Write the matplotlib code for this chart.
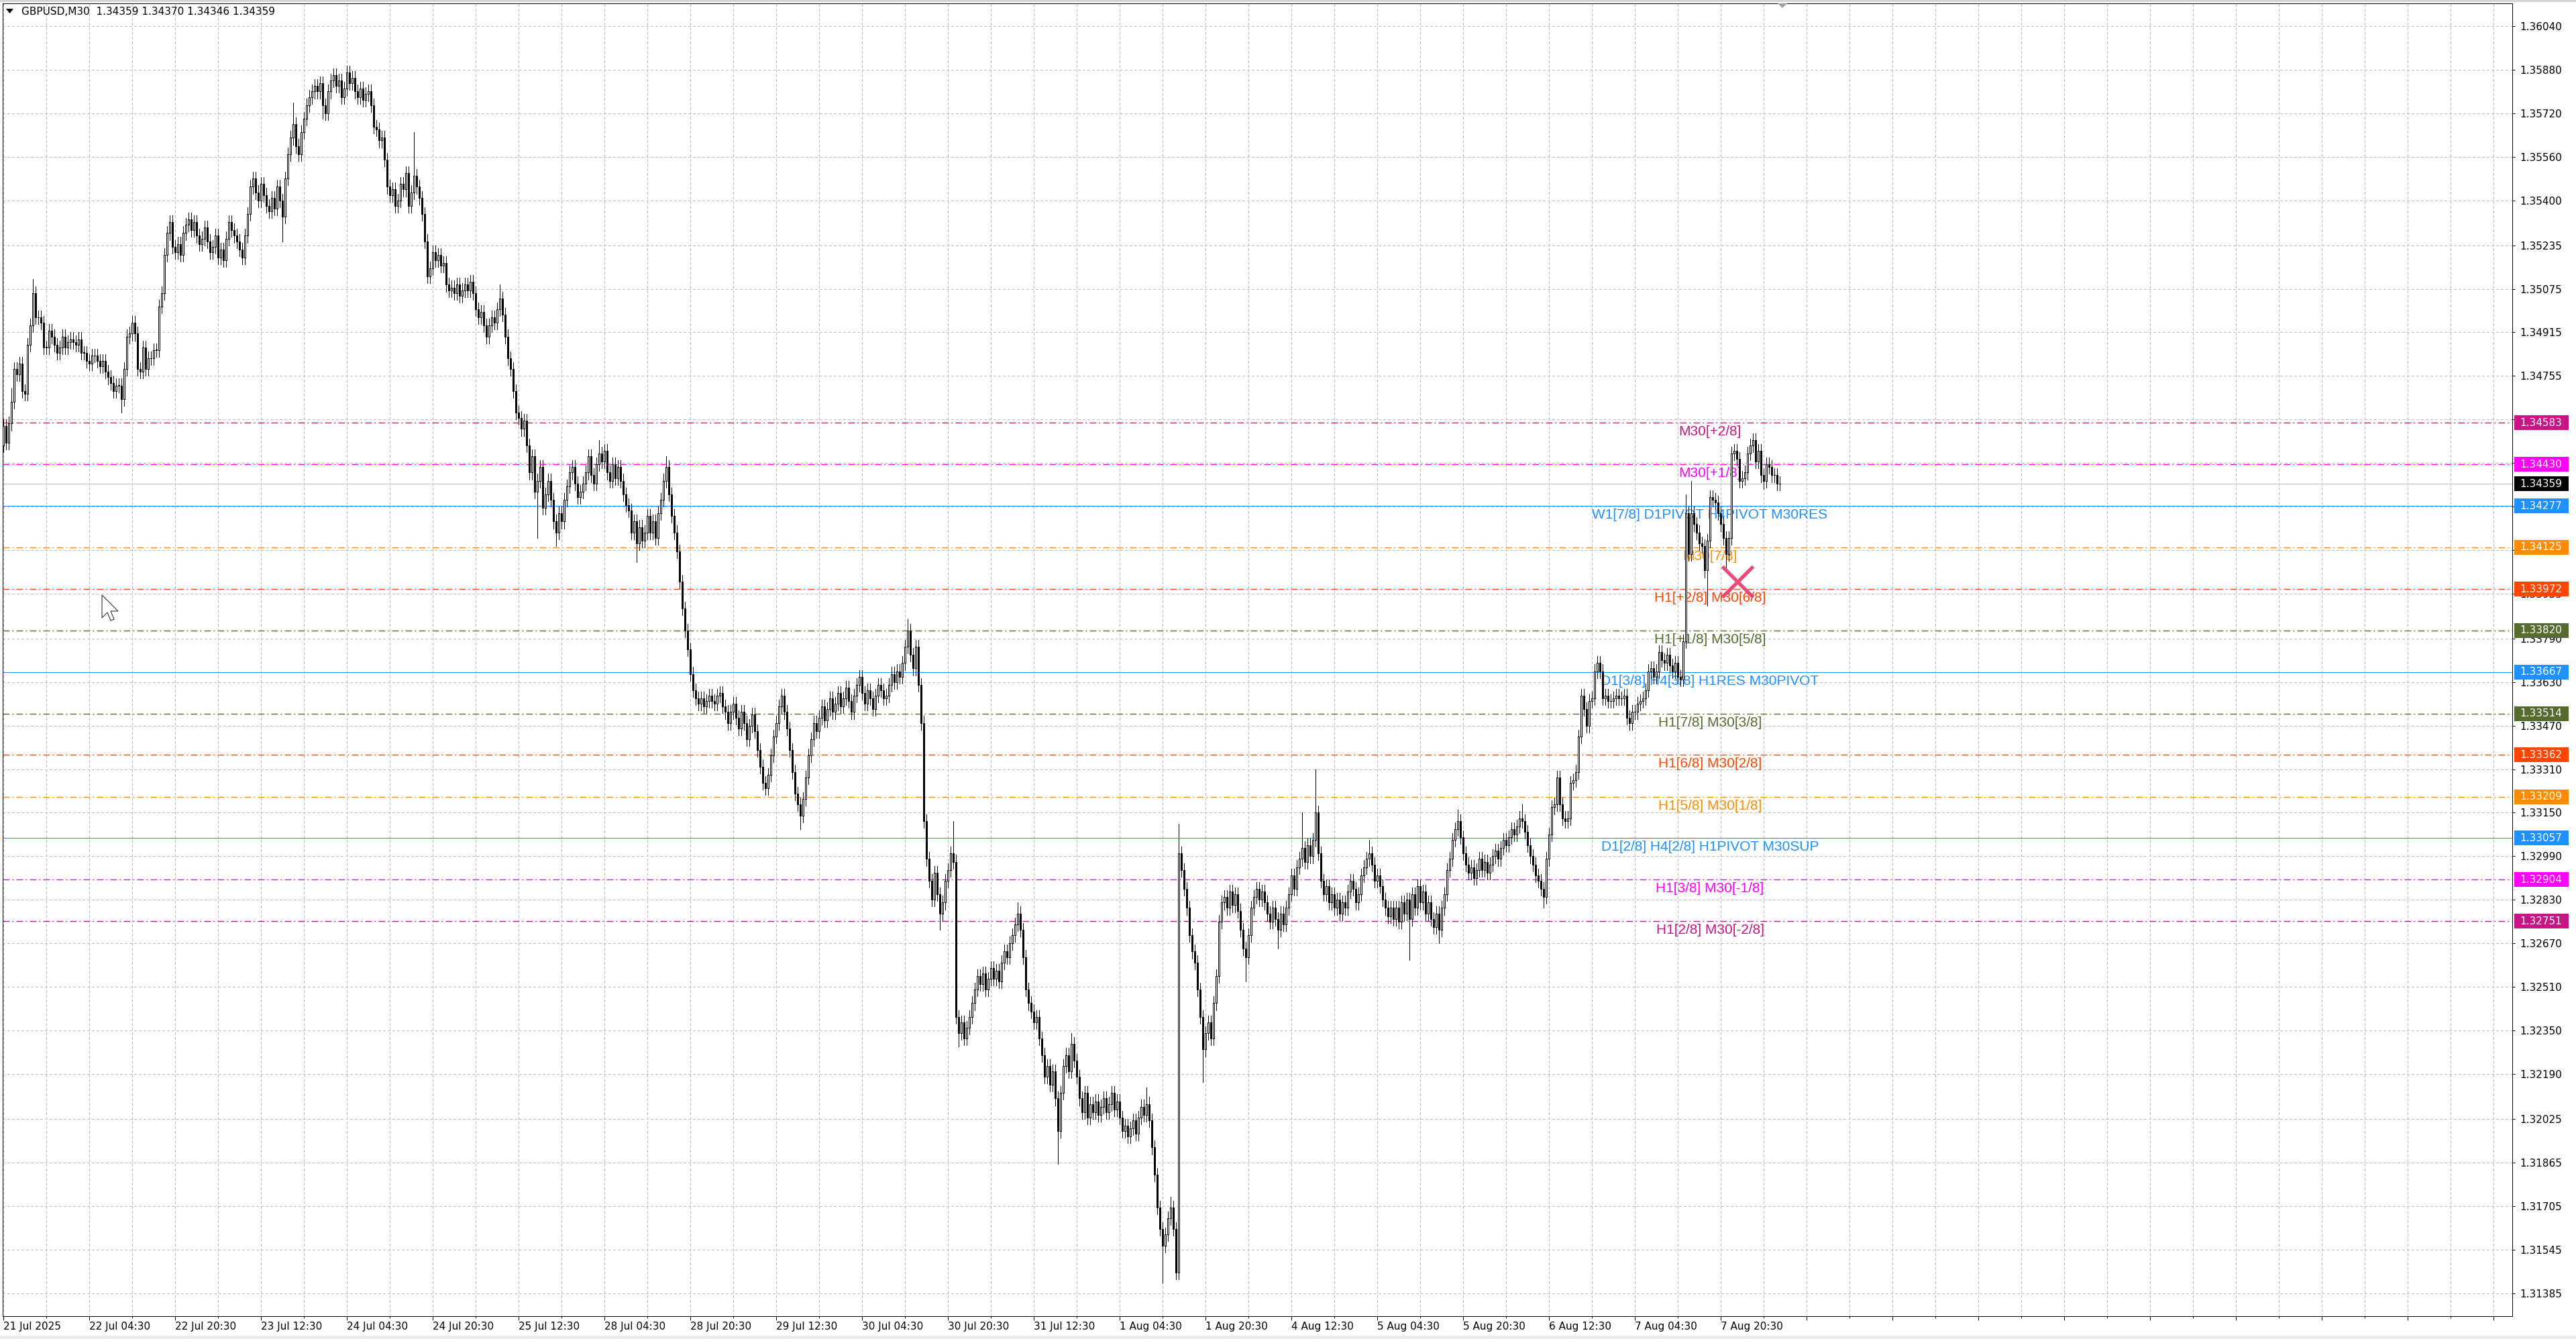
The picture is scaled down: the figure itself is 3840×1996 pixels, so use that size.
import matplotlib
matplotlib.use("Agg")
import matplotlib.pyplot as plt
from matplotlib.patches import Rectangle, Polygon
from matplotlib.transforms import blended_transform_factory, IdentityTransform
import numpy as np

plt.rcParams['font.family'] = ['DejaVu Sans']

# GBPUSD M30 closes, one per bar, 21 Jul 12:30 -> 8 Aug 07:30
closes = [
    1.3457, 1.3451, 1.3458, 1.3466, 1.3478, 1.3476, 1.3480, 1.3470, 1.3469, 1.3487,
    1.3494, 1.3506, 1.3497, 1.3497, 1.3495, 1.3486, 1.3486, 1.3492, 1.3490, 1.3487,
    1.3484, 1.3486, 1.3490, 1.3486, 1.3488, 1.3489, 1.3488, 1.3487, 1.3489, 1.3484,
    1.3484, 1.3481, 1.3480, 1.3483, 1.3483, 1.3481, 1.3479, 1.3481, 1.3477, 1.3475,
    1.3473, 1.3470, 1.3472, 1.3472, 1.3467, 1.3478, 1.3490, 1.3491, 1.3495, 1.3491,
    1.3478, 1.3477, 1.3486, 1.3478, 1.3482, 1.3482, 1.3485, 1.3485, 1.3501, 1.3506,
    1.3520, 1.3528, 1.3532, 1.3523, 1.3521, 1.3524, 1.3520, 1.3528, 1.3531, 1.3533,
    1.3529, 1.3532, 1.3527, 1.3524, 1.3526, 1.3530, 1.3525, 1.3521, 1.3523, 1.3527,
    1.3519, 1.3522, 1.3518, 1.3526, 1.3532, 1.3529, 1.3527, 1.3525, 1.3522, 1.3519,
    1.3527, 1.3535, 1.3545, 1.3548, 1.3543, 1.3540, 1.3546, 1.3542, 1.3538, 1.3536,
    1.3541, 1.3537, 1.3545, 1.3540, 1.3534, 1.3548, 1.3557, 1.3563, 1.3568, 1.3560,
    1.3557, 1.3565, 1.3570, 1.3575, 1.3578, 1.3580, 1.3582, 1.3580, 1.3583, 1.3575,
    1.3572, 1.3580, 1.3584, 1.3586, 1.3582, 1.3584, 1.3578, 1.3581, 1.3587, 1.3583,
    1.3585, 1.3580, 1.3578, 1.3581, 1.3577, 1.3579, 1.3580, 1.3575, 1.3567, 1.3566,
    1.3562, 1.3563, 1.3555, 1.3545, 1.3542, 1.3544, 1.3538, 1.3540, 1.3546, 1.3544,
    1.3550, 1.3538, 1.3543, 1.3549, 1.3545, 1.3541, 1.3535, 1.3525, 1.3512, 1.3515,
    1.3521, 1.3518, 1.3520, 1.3516, 1.3517, 1.3509, 1.3507, 1.3508, 1.3506, 1.3509,
    1.3505, 1.3507, 1.3509, 1.3507, 1.3510, 1.3506, 1.3500, 1.3497, 1.3499, 1.3494,
    1.3490, 1.3494, 1.3497, 1.3495, 1.3500, 1.3504, 1.3498, 1.3490, 1.3482, 1.3478,
    1.3470, 1.3462, 1.3460, 1.3456, 1.3459, 1.3450, 1.3440, 1.3446, 1.3433, 1.3437,
    1.3442, 1.3427, 1.3432, 1.3437, 1.3430, 1.3422, 1.3418, 1.3425, 1.3422, 1.3430,
    1.3435, 1.3440, 1.3442, 1.3436, 1.3431, 1.3433, 1.3436, 1.3440, 1.3446, 1.3439,
    1.3436, 1.3443, 1.3447, 1.3444, 1.3448, 1.3440, 1.3437, 1.3443, 1.3438, 1.3442,
    1.3437, 1.3432, 1.3428, 1.3426, 1.3418, 1.3422, 1.3414, 1.3420, 1.3415, 1.3418,
    1.3424, 1.3418, 1.3422, 1.3416, 1.3425, 1.3430, 1.3437, 1.3442, 1.3432, 1.3424,
    1.3418, 1.3411, 1.3400, 1.3390, 1.3382, 1.3375, 1.3366, 1.3360, 1.3357, 1.3355,
    1.3357, 1.3354, 1.3356, 1.3358, 1.3356, 1.3355, 1.3358, 1.3359, 1.3354, 1.3352,
    1.3348, 1.3352, 1.3355, 1.3350, 1.3346, 1.3352, 1.3348, 1.3342, 1.3347, 1.3351,
    1.3345, 1.3338, 1.3332, 1.3326, 1.3324, 1.3329, 1.3336, 1.3343, 1.3348, 1.3354,
    1.3358, 1.3352, 1.3346, 1.3338, 1.3330, 1.3322, 1.3318, 1.3314, 1.3320, 1.3328,
    1.3336, 1.3342, 1.3348, 1.3345, 1.3350, 1.3354, 1.3349, 1.3353, 1.3357, 1.3352,
    1.3355, 1.3359, 1.3354, 1.3357, 1.3361, 1.3356, 1.3352, 1.3358, 1.3362, 1.3365,
    1.3359, 1.3355, 1.3360, 1.3357, 1.3353, 1.3358, 1.3362, 1.3360, 1.3357, 1.3358,
    1.3362, 1.3366, 1.3363, 1.3367, 1.3365, 1.3370, 1.3376, 1.3382, 1.3373, 1.3368,
    1.3376, 1.3362, 1.3348, 1.3312, 1.3298, 1.3290, 1.3283, 1.3293, 1.3285, 1.3278,
    1.3282, 1.3290, 1.3294, 1.3300, 1.3297, 1.3240, 1.3234, 1.3238, 1.3232, 1.3236,
    1.3240, 1.3245, 1.3250, 1.3255, 1.3252, 1.3256, 1.3250, 1.3254, 1.3258, 1.3254,
    1.3257, 1.3253, 1.3260, 1.3264, 1.3262, 1.3267, 1.3270, 1.3274, 1.3278, 1.3272,
    1.3262, 1.3250, 1.3245, 1.3242, 1.3238, 1.3240, 1.3232, 1.3226, 1.3218, 1.3222,
    1.3215, 1.3220, 1.3210, 1.3198, 1.3212, 1.3222, 1.3226, 1.3220, 1.3230, 1.3224,
    1.3218, 1.3210, 1.3205, 1.3212, 1.3203, 1.3208, 1.3205, 1.3209, 1.3204, 1.3207,
    1.3210, 1.3205, 1.3208, 1.3212, 1.3206, 1.3209, 1.3203, 1.3198, 1.3200, 1.3196,
    1.3199, 1.3202, 1.3197, 1.3203, 1.3207, 1.3204, 1.3208, 1.3202, 1.3192, 1.3182,
    1.3170, 1.3162, 1.3156, 1.3160, 1.3166, 1.3170, 1.3162, 1.3146, 1.3300, 1.3294,
    1.3287, 1.3280, 1.3270, 1.3264, 1.3260, 1.3250, 1.3240, 1.3228, 1.3234, 1.3238,
    1.3232, 1.3245, 1.3255, 1.3275, 1.3282, 1.3284, 1.3280, 1.3286, 1.3281, 1.3285,
    1.3279, 1.3272, 1.3265, 1.3262, 1.3270, 1.3280, 1.3284, 1.3287, 1.3283, 1.3286,
    1.3282, 1.3278, 1.3275, 1.3280, 1.3276, 1.3272, 1.3278, 1.3274, 1.3280, 1.3285,
    1.3292, 1.3287, 1.3295, 1.3298, 1.3302, 1.3297, 1.3303, 1.3299, 1.3305, 1.3315,
    1.3300, 1.3290, 1.3285, 1.3288, 1.3282, 1.3285, 1.3280, 1.3283, 1.3278, 1.3282,
    1.3280, 1.3286, 1.3290, 1.3287, 1.3282, 1.3285, 1.3292, 1.3295, 1.3298, 1.3300,
    1.3296, 1.3290, 1.3292, 1.3288, 1.3283, 1.3280, 1.3277, 1.3280, 1.3276, 1.3280,
    1.3275, 1.3282, 1.3278, 1.3283, 1.3276, 1.3285, 1.3280, 1.3288, 1.3282, 1.3286,
    1.3278, 1.3282, 1.3276, 1.3273, 1.3278, 1.3272, 1.3280, 1.3285, 1.3294, 1.3298,
    1.3305, 1.3309, 1.3312, 1.3306, 1.3300, 1.3296, 1.3293, 1.3295, 1.3291, 1.3294,
    1.3298, 1.3294, 1.3297, 1.3293, 1.3296, 1.3299, 1.3301, 1.3298, 1.3302, 1.3305,
    1.3303, 1.3306, 1.3309, 1.3307, 1.3310, 1.3313, 1.3312, 1.3308, 1.3303, 1.3299,
    1.3296, 1.3292, 1.3290, 1.3287, 1.3284, 1.3298, 1.3307, 1.3317, 1.3318, 1.3328,
    1.3318, 1.3313, 1.3312, 1.3313, 1.3326, 1.3327, 1.3330, 1.3343, 1.3358, 1.3353,
    1.3347, 1.3356, 1.3357, 1.3367, 1.3370, 1.3367, 1.3357, 1.3358, 1.3356, 1.3356,
    1.3357, 1.3358, 1.3357, 1.3357, 1.3358, 1.3350, 1.3348, 1.3352, 1.3352, 1.3355,
    1.3356, 1.3357, 1.3360, 1.3367, 1.3368, 1.3365, 1.3367, 1.3374, 1.3371, 1.3370,
    1.3373, 1.3369, 1.3367, 1.3370, 1.3365, 1.3364, 1.3378, 1.3425, 1.3410, 1.3425,
    1.3421, 1.3418, 1.3414, 1.3413, 1.3404, 1.3415, 1.3431, 1.3430, 1.3429, 1.3425,
    1.3421, 1.3416, 1.3410, 1.3416, 1.3447, 1.3448, 1.3445, 1.3437, 1.3438, 1.3440,
    1.3447, 1.3450, 1.3452, 1.3444, 1.3448, 1.3439, 1.3437, 1.3443, 1.3442, 1.3439,
    1.3439, 1.3436, 1.34359,
]
first_open = 1.3450

# shadows that reach well past the usual ones
highs_read = {3: 1.3471, 11: 1.3511, 62: 1.3534, 93: 1.3550, 108: 1.3576, 123: 1.3588,
              128: 1.3589, 153: 1.3565, 185: 1.3509, 222: 1.3452, 247: 1.3446,
              337: 1.3386, 354: 1.3312, 378: 1.3282, 398: 1.3234, 426: 1.3214,
              435: 1.3174, 438: 1.3311, 484: 1.3315, 489: 1.3331, 509: 1.3305,
              542: 1.3316, 566: 1.3318, 627: 1.3432, 629: 1.3437, 652: 1.3454}
lows_read = {44: 1.3462, 104: 1.3525, 119: 1.3570, 199: 1.3416, 206: 1.3413,
             236: 1.3407, 297: 1.3309, 349: 1.3272, 356: 1.3229, 393: 1.3186,
             432: 1.3142, 447: 1.3216, 463: 1.3253, 475: 1.3265, 524: 1.3261,
             535: 1.3267, 574: 1.3280, 635: 1.3391, 642: 1.3405, 656: 1.3434}

levels = [1.34583, 1.34430, 1.34277, 1.34125, 1.33972, 1.33820, 1.33667,
          1.33514, 1.33362, 1.33209, 1.33057, 1.32904, 1.32751]
level_names = ["M30[+2/8]", "M30[+1/8]", "W1[7/8] D1PIVOT H4PIVOT M30RES", "M30[7/8]",
               "H1[+2/8] M30[6/8]", "H1[+1/8] M30[5/8]", "D1[3/8] H4[3/8] H1RES M30PIVOT",
               "H1[7/8] M30[3/8]", "H1[6/8] M30[2/8]", "H1[5/8] M30[1/8]",
               "D1[2/8] H4[2/8] H1PIVOT M30SUP", "H1[3/8] M30[-1/8]", "H1[2/8] M30[-2/8]"]
level_colors = ["#C71585", "#FF00FF", "#1E90FF", "#FF8C00", "#FF4500", "#556B2F", "#1E90FF",
                "#556B2F", "#FF4500", "#FF8C00", "#1E90FF", "#FF00FF", "#C71585"]
pivot_levels = [2, 6, 10]
bid = 1.34359
header = "GBPUSD,M30  1.34359 1.34370 1.34346 1.34359"

price_ticks = [1.36040, 1.35880, 1.35720, 1.35560, 1.35400, 1.35235, 1.35075, 1.34915,
               1.34755, 1.34595, 1.34435, 1.34275, 1.34115, 1.33955, 1.33790, 1.33630,
               1.33470, 1.33310, 1.33150, 1.32990, 1.32830, 1.32670, 1.32510, 1.32350,
               1.32190, 1.32025, 1.31865, 1.31705, 1.31545, 1.31385]
time_labels = ["21 Jul 2025", "22 Jul 04:30", "22 Jul 20:30", "23 Jul 12:30", "24 Jul 04:30",
               "24 Jul 20:30", "25 Jul 12:30", "28 Jul 04:30", "28 Jul 20:30", "29 Jul 12:30",
               "30 Jul 04:30", "30 Jul 20:30", "31 Jul 12:30", "1 Aug 04:30", "1 Aug 20:30",
               "4 Aug 12:30", "5 Aug 04:30", "5 Aug 20:30", "6 Aug 12:30", "7 Aug 04:30",
               "7 Aug 20:30"]
cross_bar, cross_price = 646.3, 1.34000

W, H = 3840, 1996
fig = plt.figure(figsize=(W / 100, H / 100), dpi=100)
fig.patch.set_facecolor('white')
ax = fig.add_axes([3.7 / W, 1 - 1962 / H, (3745 - 3.7) / W, (1962 - 5) / H])
ax.set_xlim(-0.33, 935)
ax.set_ylim(1.31300, 1.36124)
ax.set_axisbelow(True)

# candles
c = np.array(closes)
o = np.concatenate([[first_open], c[:-1]])
x = np.arange(len(c))
hi = np.maximum(o, c) + 0.00025
lo = np.minimum(o, c) - 0.00025
for k, v in highs_read.items():
    hi[k] = max(hi[k], v)
for k, v in lows_read.items():
    lo[k] = min(lo[k], v)
bull = c >= o
ax.vlines(x, lo, hi, color='black', linewidth=0.7, zorder=4, antialiased=False)
ax.bar(x, np.maximum(np.abs(c - o), 0.00001), bottom=np.minimum(o, c), width=0.5,
       color=np.where(bull, 'white', 'black'), edgecolor='black', linewidth=0.68,
       zorder=5, antialiased=False)

# grid
ax.set_yticks(price_ticks)
ax.set_yticklabels(["%.5f" % p for p in price_ticks])
major_x = np.arange(0, 935, 32)
ax.set_xticks(major_x)
ax.set_xticklabels(time_labels + [""] * (len(major_x) - len(time_labels)), ha='left')
ax.set_xticks(np.arange(16, 935, 32), minor=True)
ax.grid(True, which='major', color='#C0C0C0', linestyle=(0, (4, 4)), linewidth=0.7,
        antialiased=False)
ax.grid(True, which='minor', axis='x', color='#C0C0C0', linestyle=(0, (4, 4)),
        linewidth=0.7, antialiased=False)
ax.yaxis.tick_right()
ax.tick_params(axis='y', which='major', length=3, width=0.72, pad=5, labelsize=11, colors='black')
ax.tick_params(axis='x', which='major', length=4, width=0.72, pad=2, labelsize=11)
ax.tick_params(axis='x', which='minor', length=2, width=0.72)
for s in ax.spines.values():
    s.set_linewidth(0.72)
    s.set_color('black')

# levels
for i, (p, name, col) in enumerate(zip(levels, level_names, level_colors)):
    if i in pivot_levels:
        ax.axhline(p, color=col, linewidth=0.75, zorder=2)
    else:
        ax.axhline(p, color=col, linewidth=1.0, linestyle=(0, (7, 3, 1.4, 3)), zorder=2)
    ax.annotate(name, xy=(636, p), xytext=(0, -4), textcoords='offset pixels',
                ha='center', va='top', color=col, fontsize=15,
                family=['Liberation Sans', 'DejaVu Sans'], zorder=3)
ax.axhline(bid, color='#BEBEBE', linewidth=0.75, zorder=2)

# price boxes on the right axis
tr = blended_transform_factory(ax.transAxes, ax.transData)
box_h = 22 / (1957 / (1.36124 - 1.31300))
for p, col in list(zip(levels, level_colors)) + [(bid, 'black')]:
    ax.add_patch(Rectangle((1.00082, p - box_h / 2), 0.02165, box_h, transform=tr,
                           facecolor=col, edgecolor='none', clip_on=False, zorder=8))
    ax.text(1.00296, p, "%.5f" % p, transform=tr, color='white', fontsize=11,
            va='center', ha='left', clip_on=False, zorder=9)

# cross object
ax.plot([cross_bar], [cross_price], marker='x', markersize=33, markeredgewidth=3.8,
        color='#E8386A', alpha=0.9, zorder=7)

# header and window decorations
fig.text(32 / W, 1 - 18 / H, header, fontsize=11, ha='left', va='center', color='black')
idt = IdentityTransform()
fig.add_artist(Polygon([(9, H - 13), (20, H - 13), (14.5, H - 20)], closed=True,
                       facecolor='black', edgecolor='none', transform=idt))
fig.add_artist(Polygon([(2650, H - 5), (2664, H - 5), (2657, H - 12)], closed=True,
                       facecolor='#A0A0A0', edgecolor='none', transform=idt))
cursor = [(0, 0), (0, 34), (8, 26), (13, 38), (18, 36), (13, 24), (24, 24)]
fig.add_artist(Polygon([(152 + a, H - 887 - b) for a, b in cursor], closed=True,
                       facecolor='white', edgecolor='#333333', linewidth=0.8, transform=idt))
fig.add_artist(Rectangle((0, H - 3), W, 3, facecolor='#D4D4D4', edgecolor='none', transform=idt))
fig.add_artist(Rectangle((0, 0), W, 5, facecolor='#ECECEC', edgecolor='none', transform=idt))

fig.savefig('out.png', dpi=100)
